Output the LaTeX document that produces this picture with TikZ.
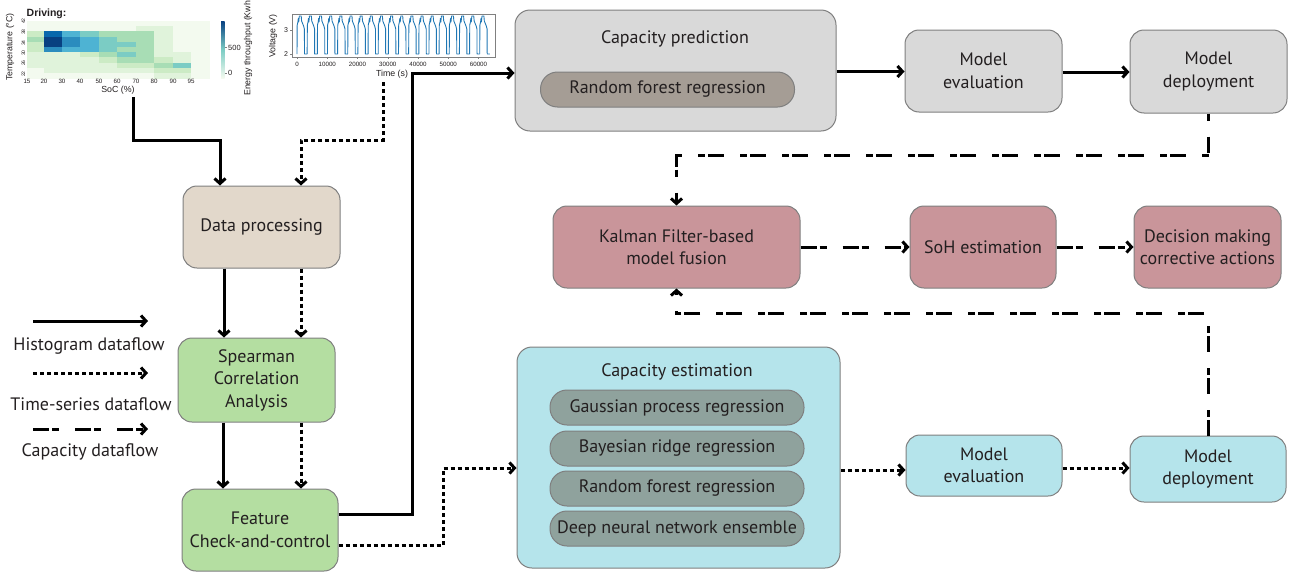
\documentclass[tikz,border=0pt]{standalone}
\usepackage{fontspec}
\setmainfont{PT Sans}
\newfontfamily\plotfont{Liberation Sans}
\usetikzlibrary{arrows.meta}
\definecolor{txt}{HTML}{231F20}
\definecolor{boxline}{HTML}{7F7F7F}
\definecolor{beige}{HTML}{E2D8CB}
\definecolor{lgreen}{HTML}{B4DEA1}
\definecolor{lgray}{HTML}{D9D9D9}
\definecolor{pillbrown}{HTML}{A59D95}
\definecolor{rose}{HTML}{C9959A}
\definecolor{lcyan}{HTML}{B5E4EB}
\definecolor{pillgreen}{HTML}{8FA29D}
\definecolor{vblue}{HTML}{1F77B4}
\definecolor{axgray}{HTML}{808080}
\definecolor{g0}{HTML}{F3FAEF}
\definecolor{g1}{HTML}{E0F3DB}
\definecolor{g2}{HTML}{CCEBC5}
\definecolor{g3}{HTML}{A8DDB5}
\definecolor{g4}{HTML}{7BCCC4}
\definecolor{g5}{HTML}{4EB3D3}
\definecolor{g6}{HTML}{2B8CBE}
\definecolor{g7}{HTML}{0868AC}
\definecolor{g8}{HTML}{084081}
\begin{document}
\begin{tikzpicture}[x=1pt,y=-1pt,
  box/.style={draw=boxline, line width=1pt, rounded corners=14pt, align=center, text=txt,
    font=\fontsize{18}{22.5}\selectfont, inner sep=0pt},
  pill/.style={draw=boxline, line width=1pt, rounded corners=17pt, minimum width=254pt,
    minimum height=35pt, inner sep=0pt, text=txt, font=\fontsize{18}{20}\selectfont},
  lbl/.style={text=txt, font=\fontsize{18}{20}\selectfont, inner sep=0pt},
  hist/.style={line width=3pt, -{Straight Barb[length=5pt,width=11pt]}},
  tsflow/.style={hist, dash pattern=on 4pt off 3pt},
  capflow/.style={hist, dash pattern=on 16pt off 3pt on 7pt off 16pt},
  tick/.style={font=\plotfont\fontsize{6.2}{7}\selectfont, text=txt, inner sep=0pt},
  axl/.style={font=\plotfont\fontsize{8.8}{10}\selectfont, text=txt, inner sep=0pt},
  vtrace/.style={vblue, line width=0.9pt, line join=round}
]
\useasboundingbox (0,0) rectangle (1294,576);
\clip (0,0) rectangle (1294,576);

% ---------------- heatmap ----------------
\node[font=\plotfont\bfseries\fontsize{10.5}{12}\selectfont, text=txt, anchor=west, inner sep=0pt] (drv) at (26.5,13.5) {Driving:};
\def\colx{{27,44,62,80,99,117,136,154,173,191,210}}
\foreach \r/\row in {0/{0,0,0,0,0,0,0,0,0,0},
                     1/{0,0,0,0,0,0,1,1,0,0},
                     2/{2,7,5,4,3,3,3,1,0,0},
                     3/{3,8,6,5,4,3,3,1,0,0},
                     4/{2,8,6,5,4,4,3,1,0,0},
                     5/{2,6,5,5,4,3,3,1,0,0},
                     6/{1,1,1,2,3,4,3,1,1,0},
                     7/{1,1,1,1,2,3,3,2,1,0},
                     8/{1,1,1,1,1,2,2,3,4,0},
                     9/{0,1,1,1,1,1,1,2,2,0},
                     10/{0,0,0,0,0,0,0,1,1,0}}{
  \foreach \v [count=\c from 0] in \row {
    \pgfmathsetmacro{\xa}{\colx[\c]}
    \pgfmathsetmacro{\xb}{\colx[\c+1]}
    \fill[g\v] (\xa,{21+\r*5.2}) rectangle (\xb+0.3,{21+(\r+1)*5.2+0.3});
  }
}
\foreach \t/\x in {15/27,20/44,30/62,40/80,50/99,60/117,70/136,80/154,90/173,95/191}{
  \node[tick] at (\x,81.5) {\t};
}
\foreach \t/\y in {42/21,38/32,34/43,30/53,26/63,22/74}{
  \node[tick, rotate=90, font=\plotfont\fontsize{5}{6}\selectfont] at (23.5,\y) {\t};
}
\node[axl] (socl) at (118,90.5) {SoC (\%)};
\node[axl, rotate=90] (templ) at (10,47) {Temperature (°C)};
\shade[top color=g8, bottom color=g0, middle color=g4] (221,21) rectangle (224.5,78);
\draw[axgray, line width=0.5pt] (224.5,47.5) -- (226.5,47.5) (224.5,73) -- (226.5,73);
\node[tick, anchor=west, font=\plotfont\fontsize{7.5}{8}\selectfont] at (228,47.5) {500};
\node[tick, anchor=west, font=\plotfont\fontsize{7.5}{8}\selectfont] at (228,73) {0};
\node[axl, rotate=90, anchor=west] (enl) at (248,96) {Energy throughput (Kwh)};
\coordinate (hmout) at (133,97);

% ---------------- voltage plot ----------------
\foreach \k in {0,...,18}{
  \pgfmathsetmacro{\xo}{297+\k*10.15}
  \draw[vtrace] (\xo,54) -- (\xo+0.2,25) -- (\xo+0.9,22) -- (\xo+1.3,18.5) -- (\xo+1.7,22)
    -- (\xo+2.3,16) -- (\xo+4.2,16) -- (\xo+4.6,21) -- (\xo+6.6,26) -- (\xo+7.4,29)
    -- (\xo+7.5,54) -- (\xo+10.15,54);
}
\draw[axgray, line width=0.8pt] (292,14) rectangle (495,57);
\foreach \t/\x in {0/297,10000/327.3,20000/357.5,30000/387.8,40000/418,50000/448.3,60000/478.5}{
  \draw[axgray, line width=0.5pt] (\x,57) -- (\x,59);
  \node[tick] at (\x,64) {\t};
}
\draw[axgray, line width=0.5pt] (292,30) -- (290,30) (292,54) -- (290,54);
\node[tick, font=\plotfont\fontsize{7}{8}\selectfont] at (286,30) {3};
\node[tick, font=\plotfont\fontsize{7}{8}\selectfont] at (286,54) {2};
\node[axl, rotate=90] (voltl) at (273,36) {Voltage (V)};
\node[axl] (timel) at (392,74) {Time (s)};
\coordinate (vout) at (383,82);

% ---------------- left column ----------------
\node[box, fill=beige, minimum width=157pt, minimum height=82pt] (dp) at (261.5,227) {Data processing};
\node[box, fill=lgreen, minimum width=157pt, minimum height=84pt] (sca) at (256.5,380) {Spearman\\Correlation\\Analysis};
\node[box, fill=lgreen, minimum width=156pt, minimum height=82pt] (fcc) at (260,530) {Feature\\Check-and-control};

% ---------------- capacity prediction ----------------
\node[box, fill=lgray, rounded corners=15pt, minimum width=321pt, minimum height=121pt] (cp) at (675.5,70.5) {};
\node[lbl] (cpt) at (675,39) {Capacity prediction};
\node[pill, fill=pillbrown] (rf1) at (667.5,89.5) {Random forest regression};
\node[box, fill=lgray, minimum width=157pt, minimum height=82pt] (me1) at (983.5,71) {Model\\evaluation};
\node[box, fill=lgray, minimum width=157pt, minimum height=83pt] (md1) at (1208.5,71.5) {Model\\deployment};

% ---------------- fusion row ----------------
\node[box, fill=rose, minimum width=247pt, minimum height=82pt] (kf) at (676.5,247) {Kalman Filter-based\\model fusion};
\node[box, fill=rose, minimum width=146pt, minimum height=82pt] (soh) at (983,247) {SoH estimation};
\node[box, fill=rose, minimum width=147pt, minimum height=82pt] (dm) at (1207.5,247) {Decision making\\corrective actions};

% ---------------- capacity estimation ----------------
\node[box, fill=lcyan, rounded corners=15pt, minimum width=323pt, minimum height=221pt] (ce) at (678.5,457.5) {};
\node[lbl] (cet) at (677,372) {Capacity estimation};
\node[pill, fill=pillgreen] (gp) at (677,407.5) {Gaussian process regression};
\node[pill, fill=pillgreen] (br) at (677,448.5) {Bayesian ridge regression};
\node[pill, fill=pillgreen] (rf2) at (677,488.5) {Random forest regression};
\node[pill, fill=pillgreen] (dn) at (677,528.5) {Deep neural network ensemble};
\node[box, fill=lcyan, minimum width=156pt, minimum height=61pt] (me2) at (984,465.5) {Model\\evaluation};
\node[box, fill=lcyan, minimum width=156pt, minimum height=66pt] (md2) at (1208,469) {Model\\deployment};

% ---------------- legend ----------------
\coordinate (l1a) at (33,321); \coordinate (l1b) at (148,321);
\coordinate (l2a) at (33,373); \coordinate (l2b) at (148,373);
\coordinate (l3a) at (33,429); \coordinate (l3b) at (148,429);
\draw[hist] (l1a) -- (l1b);
\draw[tsflow] (l2a) -- (l2b);
\draw[capflow] (l3a) -- (l3b);
\node[lbl] (lg1) at (89,346) {Histogram dataflow};
\node[lbl] (lg2) at (91,404) {Time-series dataflow};
\node[lbl] (lg3) at (90,452) {Capacity dataflow};

% ---------------- connectors ----------------
\draw[hist] (hmout) -- (133,140) -| ([xshift=-41.5pt]dp.north);
\draw[tsflow] (vout) -- (383,140) -| ([xshift=39.5pt]dp.north);
\draw[hist] ([xshift=-37.5pt]dp.south) -- ([xshift=-37.5pt]dp.south |- sca.north);
\draw[tsflow] ([xshift=39.5pt]dp.south) -- ([xshift=39.5pt]dp.south |- sca.north);
\draw[hist] ([xshift=-33.5pt]sca.south) -- ([xshift=-33.5pt]sca.south |- fcc.north);
\draw[tsflow] ([xshift=44.5pt]sca.south) -- ([xshift=44.5pt]sca.south |- fcc.north);
\draw[hist] ([yshift=16pt]fcc.east) -| (412,73) -- ([yshift=-2.5pt]cp.west);
\draw[tsflow] ([yshift=-15pt]fcc.east) -| (443,468) -- ([yshift=-10.5pt]ce.west);
\draw[hist] ([yshift=-1pt]cp.east) -- ([yshift=-1pt]cp.east -| me1.west);
\draw[hist] ([yshift=-1pt]me1.east) -- ([yshift=-1pt]me1.east -| md1.west);
\draw[capflow, dash phase=19pt] (md1.south) -- ++(0,42) -| (kf.north);
\draw[capflow] (kf.east) -- (soh.west);
\draw[capflow] (soh.east) -- (dm.west);
\draw[capflow] (md2.north) -- ++(0,-122) -| (kf.south);
\draw[tsflow] ([yshift=-4.5pt]me2.west -| ce.east) -- ([yshift=-4.5pt]me2.west);
\draw[tsflow] ([yshift=-2.5pt]me2.east) -- ([yshift=-2.5pt]me2.east -| md2.west);
\end{tikzpicture}
\end{document}
